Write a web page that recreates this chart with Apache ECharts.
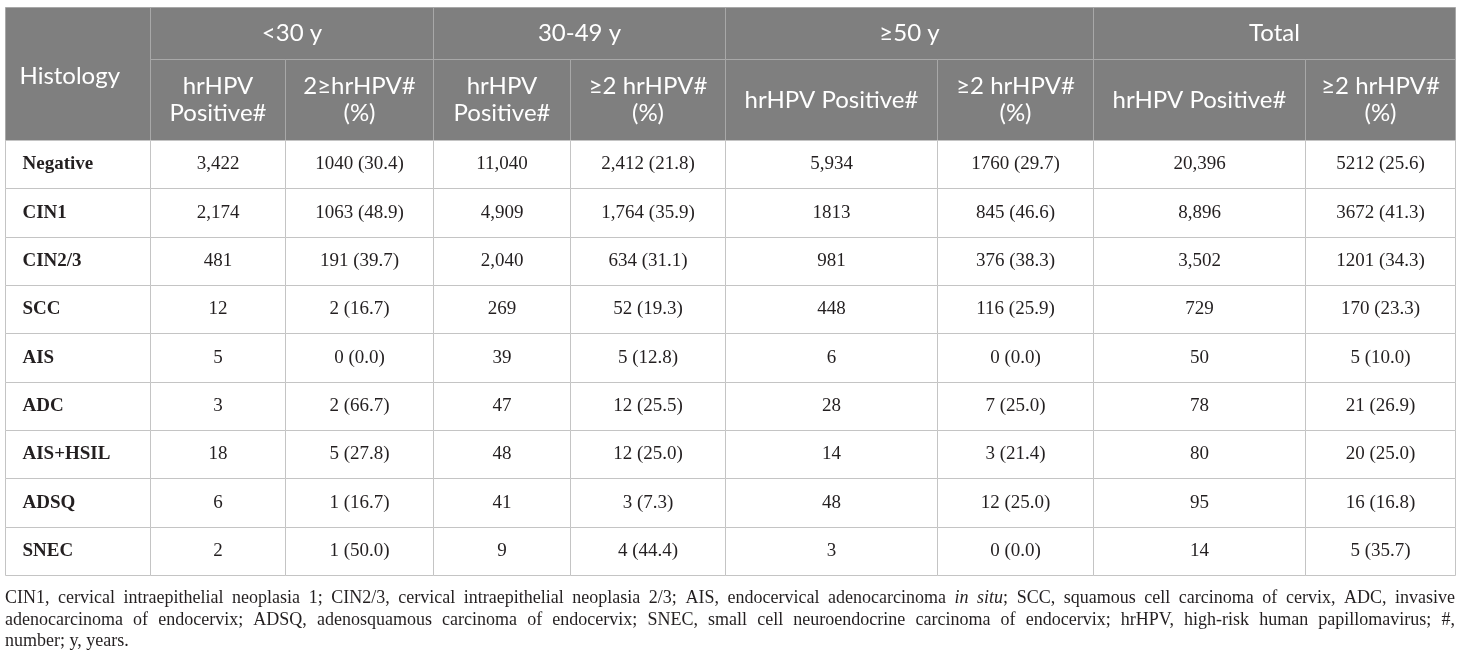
<!DOCTYPE html>
<html><head><meta charset="utf-8">
<script src="https://cdn.jsdelivr.net/npm/echarts@6/dist/echarts.min.js"></script>
<style>html,body{margin:0;padding:0;background:#fff}#c{width:1460px;height:662px}</style>
</head><body><div id="c"></div>
<script>
// ---------- data ----------
const rowHeader = 'Histology';
const groups = ['<30 y', '30-49 y', '≥50 y', 'Total'];
const subHeaders = ['hrHPV\nPositive#', '2≥hrHPV#\n(%)', 'hrHPV\nPositive#', '≥2 hrHPV#\n(%)',
                    'hrHPV Positive#', '≥2 hrHPV#\n(%)', 'hrHPV Positive#', '≥2 hrHPV#\n(%)'];
const histology = ['Negative', 'CIN1', 'CIN2/3', 'SCC', 'AIS', 'ADC', 'AIS+HSIL', 'ADSQ', 'SNEC'];
const under30Pos = ['3,422', '2,174', '481', '12', '5', '3', '18', '6', '2'];
const under30Multi = ['1040 (30.4)', '1063 (48.9)', '191 (39.7)', '2 (16.7)', '0 (0.0)', '2 (66.7)', '5 (27.8)', '1 (16.7)', '1 (50.0)'];
const age30to49Pos = ['11,040', '4,909', '2,040', '269', '39', '47', '48', '41', '9'];
const age30to49Multi = ['2,412 (21.8)', '1,764 (35.9)', '634 (31.1)', '52 (19.3)', '5 (12.8)', '12 (25.5)', '12 (25.0)', '3 (7.3)', '4 (44.4)'];
const over50Pos = ['5,934', '1813', '981', '448', '6', '28', '14', '48', '3'];
const over50Multi = ['1760 (29.7)', '845 (46.6)', '376 (38.3)', '116 (25.9)', '0 (0.0)', '7 (25.0)', '3 (21.4)', '12 (25.0)', '0 (0.0)'];
const totalPos = ['20,396', '8,896', '3,502', '729', '50', '78', '80', '95', '14'];
const totalMulti = ['5212 (25.6)', '3672 (41.3)', '1201 (34.3)', '170 (23.3)', '5 (10.0)', '21 (26.9)', '20 (25.0)', '16 (16.8)', '5 (35.7)'];
const footnoteLines = [
  'CIN1, cervical intraepithelial neoplasia 1; CIN2/3, cervical intraepithelial neoplasia 2/3; AIS, endocervical adenocarcinoma _in_ _situ_; SCC, squamous cell carcinoma of cervix, ADC, invasive',
  'adenocarcinoma of endocervix; ADSQ, adenosquamous carcinoma of endocervix; SNEC, small cell neuroendocrine carcinoma of endocervix; hrHPV, high-risk human papillomavirus; #,',
  'number; y, years.'
];

// ---------- layout / style ----------
const W = 1460, H = 662;
const colEdges = [5, 150, 285, 433, 570, 725, 937, 1093, 1305, 1455];
const rowEdges = [7, 59, 140];
const bodyRowH = 435 / 9;
for (let k = 1; k <= 9; k++) rowEdges.push(140 + k * bodyRowH);
const headFill = '#7f7f7f', headLine = '#a8a8a8', bodyLine = '#c4c4c4';
const headFont = 'Lato, "Open Sans", sans-serif';
const bodyFont = '"Liberation Serif", "DejaVu Serif", serif';
const textColor = '#231f20';
const footFontSize = 18;
const footY = [600, 622, 643];

// ---------- cells ----------
const cells = [];
cells.push({c0: 0, c1: 1, r0: 0, r1: 2, text: rowHeader, kind: 'headLeft'});
groups.forEach((g, i) => cells.push({c0: 1 + 2 * i, c1: 3 + 2 * i, r0: 0, r1: 1, text: g, kind: 'head'}));
subHeaders.forEach((s, i) => cells.push({c0: 1 + i, c1: 2 + i, r0: 1, r1: 2, text: s, kind: 'head'}));
const columns = [under30Pos, under30Multi, age30to49Pos, age30to49Multi, over50Pos, over50Multi, totalPos, totalMulti];
histology.forEach((h, r) => {
  cells.push({c0: 0, c1: 1, r0: 2 + r, r1: 3 + r, text: h, kind: 'rowLabel'});
  columns.forEach((col, ci) => cells.push({c0: 1 + ci, c1: 2 + ci, r0: 2 + r, r1: 3 + r, text: col[r], kind: 'body'}));
});

function renderCell(params, api) {
  const cell = cells[params.dataIndex];
  const p0 = api.coord([colEdges[api.value(0)], rowEdges[api.value(2)]]);
  const p1 = api.coord([colEdges[api.value(1)], rowEdges[api.value(3)]]);
  const x0 = Math.round(p0[0]) + 0.5, y0 = Math.round(p0[1]) + 0.5;
  const x1 = Math.round(p1[0]) + 0.5, y1 = Math.round(p1[1]) + 0.5;
  const isHead = cell.kind === 'head' || cell.kind === 'headLeft';
  const rect = {
    type: 'rect', shape: {x: x0, y: y0, width: x1 - x0, height: y1 - y0},
    style: {fill: isHead ? headFill : '#ffffff', stroke: isHead ? headLine : bodyLine, lineWidth: 1}
  };
  let ts;
  if (isHead) {
    ts = {
      text: cell.text, x: cell.kind === 'headLeft' ? x0 + 14 : (x0 + x1) / 2,
      y: (y0 + y1) / 2 + (cell.kind === 'headLeft' ? 2 : 0),
      align: cell.kind === 'headLeft' ? 'left' : 'center', verticalAlign: 'middle',
      fontFamily: headFont, fontSize: 24, lineHeight: 27, fill: '#ffffff'
    };
  } else if (cell.kind === 'rowLabel') {
    ts = {
      text: cell.text, x: x0 + 17, y: (y0 + y1) / 2, align: 'left', verticalAlign: 'middle',
      fontFamily: bodyFont, fontSize: 19, fontWeight: 'bold', fill: textColor
    };
  } else {
    ts = {
      text: cell.text, x: (x0 + x1) / 2, y: (y0 + y1) / 2, align: 'center', verticalAlign: 'middle',
      fontFamily: bodyFont, fontSize: 19, fill: textColor
    };
  }
  return {type: 'group', children: [rect, {type: 'text', style: ts}]};
}

// ---------- footnote (justified) ----------
const measureCtx = document.createElement('canvas').getContext('2d');
function fontStr(italic) { return (italic ? 'italic ' : '') + footFontSize + 'px "Liberation Serif"'; }
function measure(t, italic) { measureCtx.font = fontStr(italic); return measureCtx.measureText(t).width; }
function parseWord(w) {
  const parts = []; const re = /_([^_]+)_|([^_]+)/g; let m;
  while ((m = re.exec(w))) parts.push(m[1] !== undefined ? {t: m[1], i: true} : {t: m[2], i: false});
  return parts;
}
const footGraphics = [];
const left = colEdges[0], right = colEdges[colEdges.length - 1];
footnoteLines.forEach((line, li) => {
  const words = line.split(' ').map(parseWord);
  const widths = words.map(ps => ps.reduce((s, p) => s + measure(p.t, p.i), 0));
  const total = widths.reduce((a, b) => a + b, 0);
  const justify = li < footnoteLines.length - 1;
  const gap = justify ? (right - left - total) / (words.length - 1) : measure(' ', false);
  let x = left;
  words.forEach((ps, wi) => {
    let px = x;
    ps.forEach(p => {
      footGraphics.push({
        type: 'text', left: px, top: footY[li] - footFontSize * 0.6,
        style: {text: p.t, font: fontStr(p.i), fill: textColor}
      });
      px += measure(p.t, p.i);
    });
    x += widths[wi] + gap;
  });
});

const chart = echarts.init(document.getElementById('c'), null, {renderer: 'canvas'});
chart.setOption({
  animation: false,
  grid: {left: 0, right: 0, top: 0, bottom: 0},
  xAxis: {type: 'value', min: 0, max: W, show: false},
  yAxis: {type: 'value', min: 0, max: H, inverse: true, show: false},
  series: [{
    type: 'custom', coordinateSystem: 'cartesian2d', clip: false,
    encode: {x: [0, 1], y: [2, 3]},
    data: cells.map(c => [c.c0, c.c1, c.r0, c.r1]),
    renderItem: renderCell
  }],
  graphic: footGraphics
});
</script></body></html>
